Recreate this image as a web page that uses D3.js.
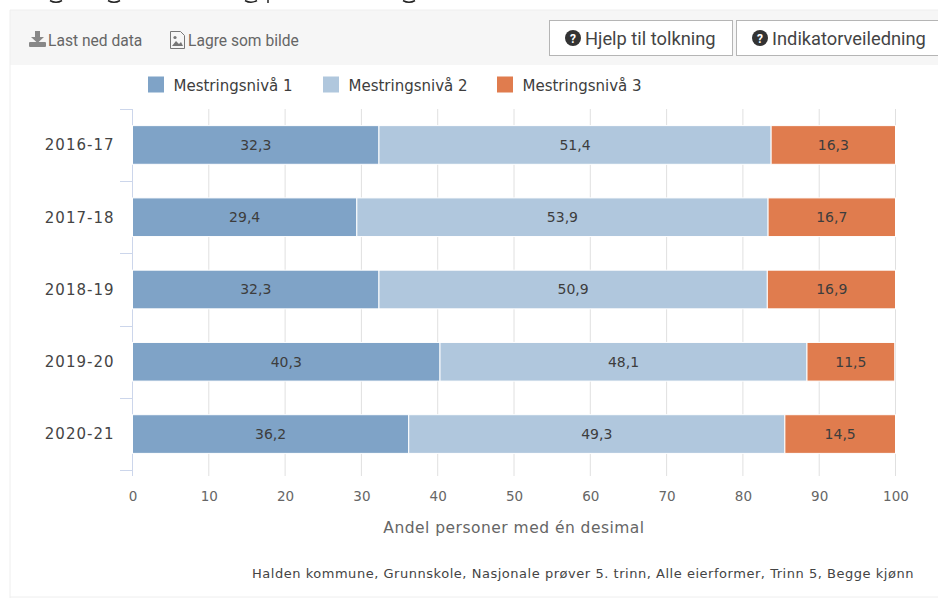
<!DOCTYPE html>
<html>
<head>
<meta charset="utf-8">
<script src="https://cdnjs.cloudflare.com/ajax/libs/d3/7.8.5/d3.min.js"></script>
<style>
  html, body { margin: 0; padding: 0; background: #fff; overflow: hidden; }
  svg { display: block; }
  .bar-label { font-family: "DejaVu Sans", sans-serif; font-size: 14px; fill: #3d3d3d; }
  .axis text { font-family: "DejaVu Sans", sans-serif; }
</style>
</head>
<body>
<div id="chart"></div>
<script>
// Data
const years = ["2016-17", "2017-18", "2018-19", "2019-20", "2020-21"];
const levels = ["Mestringsnivå 1", "Mestringsnivå 2", "Mestringsnivå 3"];
const level1 = [32.3, 29.4, 32.3, 40.3, 36.2];
const level2 = [51.4, 53.9, 50.9, 48.1, 49.3];
const level3 = [16.3, 16.7, 16.9, 11.5, 14.5];
const xTicks = [0, 10, 20, 30, 40, 50, 60, 70, 80, 90, 100];
const colors = ["#7fa3c7", "#b0c7dd", "#e07c4e"];

const fmt = v => v.toFixed(1).replace(".", ",");

const svg = d3.select("#chart").append("svg")
    .attr("width", 938)
    .attr("height", 598);

// Rester av overskriften som er kuttet i toppen av bildet
svg.append("g").selectAll("path")
    .data([50, 108, 245, 403])
    .enter()
    .append("path")
    .attr("d", d => `M${d} 0.5q6 3.5 12 0`)
    .attr("fill", "none")
    .attr("stroke", "#222")
    .attr("stroke-width", 1.5);
svg.append("line").attr("x1", 268).attr("x2", 268).attr("y1", 0).attr("y2", 3).attr("stroke", "#222").attr("stroke-width", 1.5);

// Panel rammer og verktøylinje
svg.append("rect").attr("x", 10).attr("y", 10).attr("width", 928).attr("height", 55).attr("fill", "#f6f6f6");
svg.append("line").attr("x1", 10).attr("x2", 938).attr("y1", 10).attr("y2", 10).attr("stroke", "#eeeeee");
svg.append("line").attr("x1", 10).attr("x2", 10).attr("y1", 10).attr("y2", 598).attr("stroke", "#eeeeee");
svg.append("line").attr("x1", 10).attr("x2", 938).attr("y1", 597).attr("y2", 597).attr("stroke", "#eeeeee");

const toolbarText = (x, y, size, color, txt) => svg.append("text")
    .attr("x", x).attr("y", y)
    .style("font-family", "Roboto, sans-serif")
    .style("font-size", size + "px")
    .style("fill", color)
    .text(txt);

toolbarText(48, 45.5, 15.6, "#666", "Last ned data");
toolbarText(188, 45.5, 15.6, "#666", "Lagre som bilde");

// Nedlastingsikon
const dl = svg.append("g").attr("transform", "translate(29,31)").attr("fill", "#888");
dl.append("path").attr("d", "M6 0h5v6h4l-6.5 6L2 6h4z");
dl.append("rect").attr("x", 0).attr("y", 11).attr("width", 17).attr("height", 5).attr("rx", 1);

// Bildeikon
const img = svg.append("g").attr("transform", "translate(170,31)");
img.append("path").attr("d", "M0.5 0.5h10l4 4v13h-14z").attr("fill", "#f6f6f6").attr("stroke", "#777");
img.append("path").attr("d", "M2 15l4-5 3 3 2-2 2 4z").attr("fill", "#777");
img.append("circle").attr("cx", 5).attr("cy", 6.5).attr("r", 1.6).attr("fill", "#777");

// Knapper
const buttons = [
    { x: 549, w: 183, label: "Hjelp til tolkning" },
    { x: 736, w: 210, label: "Indikatorveiledning" }
];
buttons.forEach(b => {
    svg.append("rect")
        .attr("x", b.x + 0.5).attr("y", 20.5)
        .attr("width", b.w).attr("height", 35)
        .attr("fill", "#fff").attr("stroke", "#b5b5b5");
    svg.append("circle").attr("cx", b.x + 24).attr("cy", 38).attr("r", 8).attr("fill", "#333");
    svg.append("text")
        .attr("x", b.x + 24).attr("y", 42.5)
        .attr("text-anchor", "middle")
        .style("font-family", "Roboto, sans-serif")
        .style("font-size", "12px").style("font-weight", "bold")
        .style("fill", "#fff").text("?");
    svg.append("text")
        .attr("x", b.x + 36).attr("y", 44.5)
        .style("font-family", "Roboto, sans-serif")
        .style("font-size", "18.3px").style("fill", "#444")
        .text(b.label);
});

// Skalaer
const x = d3.scaleLinear().domain([0, 100]).range([132.5, 895.5]).clamp(true);
const y = d3.scaleBand().domain(years).range([109, 470]).paddingInner(0.465).paddingOuter(0.23);
const yOuter = d3.scaleBand().domain(years).range([109, 470]);

// Rutenett og x-akse
const xAxis = svg.append("g")
    .attr("class", "axis")
    .attr("transform", "translate(0,470)")
    .call(d3.axisBottom(x).tickValues(xTicks).tickSize(0).tickPadding(21));
xAxis.select(".domain").remove();
xAxis.selectAll("text").style("font-size", "13.5px").style("fill", "#666");

svg.append("g").selectAll("line")
    .data(xTicks)
    .enter()
    .append("line")
    .attr("x1", d => x(d))
    .attr("x2", d => x(d))
    .attr("y1", 109)
    .attr("y2", 476)
    .attr("stroke", d => d === 0 ? "#ccd6eb" : "#e0e0e0");

// Y-akse
const yAxis = svg.append("g")
    .attr("class", "axis")
    .attr("transform", "translate(132.5,0.5)")
    .call(d3.axisLeft(yOuter).tickSize(0).tickPadding(18));
yAxis.select(".domain").remove();
yAxis.selectAll("text")
    .style("font-size", "15px")
    .style("letter-spacing", "1px")
    .style("fill", "#444");

svg.append("g").selectAll("line")
    .data(years.map((d, i) => 109 + i * yOuter.step()).concat([470]))
    .enter()
    .append("line")
    .attr("x1", 120)
    .attr("x2", 132.5)
    .attr("y1", d => Math.round(d) + 0.5)
    .attr("y2", d => Math.round(d) + 0.5)
    .attr("stroke", "#ccd6eb");

// Stablede søyler
const rows = years.map((year, i) => ({ year, values: [level1[i], level2[i], level3[i]] }));

rows.forEach(row => {
    let start = 0;
    row.values.forEach((v, j) => {
        svg.append("rect")
            .attr("x", x(start))
            .attr("y", y(row.year))
            .attr("width", x(start + v) - x(start))
            .attr("height", y.bandwidth())
            .attr("fill", colors[j])
            .attr("stroke", "#fff")
            .attr("stroke-width", 1);
        svg.append("text")
            .attr("class", "bar-label")
            .attr("x", x(start + v / 2))
            .attr("y", y(row.year) + y.bandwidth() / 2)
            .attr("dy", "0.35em")
            .attr("text-anchor", "middle")
            .text(fmt(v));
        start += v;
    });
});

// Akseetikett
svg.append("text")
    .attr("x", 514)
    .attr("y", 533)
    .attr("text-anchor", "middle")
    .style("font-family", "DejaVu Sans, sans-serif")
    .style("font-size", "15.5px")
    .style("letter-spacing", "0.48px")
    .style("fill", "#666")
    .text("Andel personer med én desimal");

// Kildetekst
svg.append("text")
    .attr("x", 914)
    .attr("y", 578)
    .attr("text-anchor", "end")
    .style("font-family", "DejaVu Sans, sans-serif")
    .style("font-size", "13px")
    .style("letter-spacing", "0.53px")
    .style("fill", "#444")
    .text("Halden kommune, Grunnskole, Nasjonale prøver 5. trinn, Alle eierformer, Trinn 5, Begge kjønn");

// Tegnforklaring
const legendX = [148, 323, 497];
levels.forEach((name, i) => {
    svg.append("rect")
        .attr("x", legendX[i]).attr("y", 76.5)
        .attr("width", 16).attr("height", 16)
        .attr("fill", colors[i]);
    svg.append("text")
        .attr("x", legendX[i] + 25.5).attr("y", 90.5)
        .style("font-family", "DejaVu Sans, sans-serif")
        .style("font-size", "15px")
        .style("fill", "#3d3d3d")
        .text(name);
});
</script>
</body>
</html>
